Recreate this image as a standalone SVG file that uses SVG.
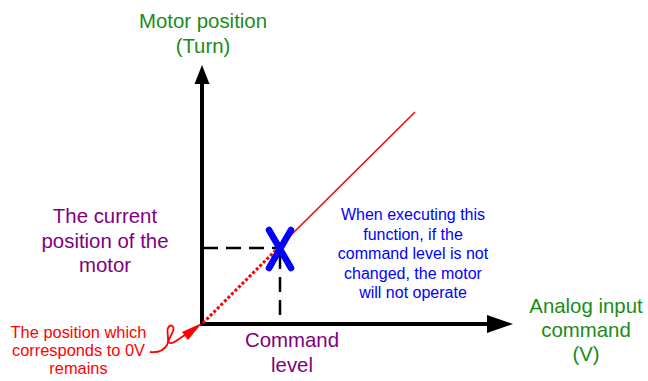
<svg xmlns="http://www.w3.org/2000/svg" width="648" height="381" viewBox="0 0 648 381">
<defs>
<style>
text{font-family:"Liberation Sans",Arial,sans-serif;text-anchor:middle}
.g{fill:#1a8c1a;font-size:20.4px}
.p{fill:#800080;font-size:20.4px}
.b{fill:#0000ff;font-size:16px}
.r{fill:#ff0000;font-size:16.4px}
.axis{stroke:#000;stroke-width:4;fill:none}
.dash{stroke:#000;stroke-width:2.5;stroke-dasharray:15,8;fill:none}
</style>
</defs>
<rect width="648" height="381" fill="#fff"/>
<g id="connectors">
<line class="axis" x1="202" y1="326" x2="202" y2="80"/>
<polygon points="202,65 194.5,84 209.5,84" fill="#000"/>
<line class="axis" x1="200" y1="324" x2="490" y2="324"/>
<polygon points="513,324 487,315 487,333" fill="#000"/>
<line class="dash" x1="203" y1="248" x2="278" y2="248"/>
<line class="dash" x1="280" y1="254" x2="280" y2="322"/>
<line x1="280" y1="246" x2="415" y2="112" stroke="#ff0000" stroke-width="1.5"/>
<line x1="203" y1="323" x2="278" y2="248" stroke="#ff0000" stroke-width="3" stroke-dasharray="3,2"/>
<path d="M150,352 C158,353 164,350 167,345 C170,339 166,332 168,328 C170,324 175,325 173,331 C171,337 166,342 170,343 C174,344 178,339 185,335" fill="none" stroke="#ff0000" stroke-width="1.8"/>
<polygon points="202,323 182,332 188,340" fill="#ff0000"/>
</g>
<g id="xmark">
<path d="M269,230 L291,268 M291,230 L269,268" stroke="#0000ff" stroke-width="6.5" stroke-linecap="round" fill="none"/>
</g>
<g id="y-label"><text class="g" x="203" y="28">Motor position</text><text class="g" x="203" y="53">(Turn)</text></g>
<g id="current-label"><text class="p" x="105" y="223">The current</text><text class="p" x="105" y="248">position of the</text><text class="p" x="105" y="272">motor</text></g>
<g id="note"><text class="b" x="413" y="220">When executing this</text><text class="b" x="413" y="239.5">function, if the</text><text class="b" x="413" y="259">command level is not</text><text class="b" x="413" y="278.5">changed, the motor</text><text class="b" x="413" y="298">will not operate</text></g>
<g id="x-label"><text class="g" x="586" y="313">Analog input</text><text class="g" x="586" y="337">command</text><text class="g" x="586" y="361">(V)</text></g>
<g id="command-label"><text class="p" x="292" y="347">Command</text><text class="p" x="292" y="372">level</text></g>
<g id="zero-label"><text class="r" x="78.5" y="338">The position which</text><text class="r" x="78.5" y="356">corresponds to 0V</text><text class="r" x="78.5" y="374">remains</text></g>
</svg>
